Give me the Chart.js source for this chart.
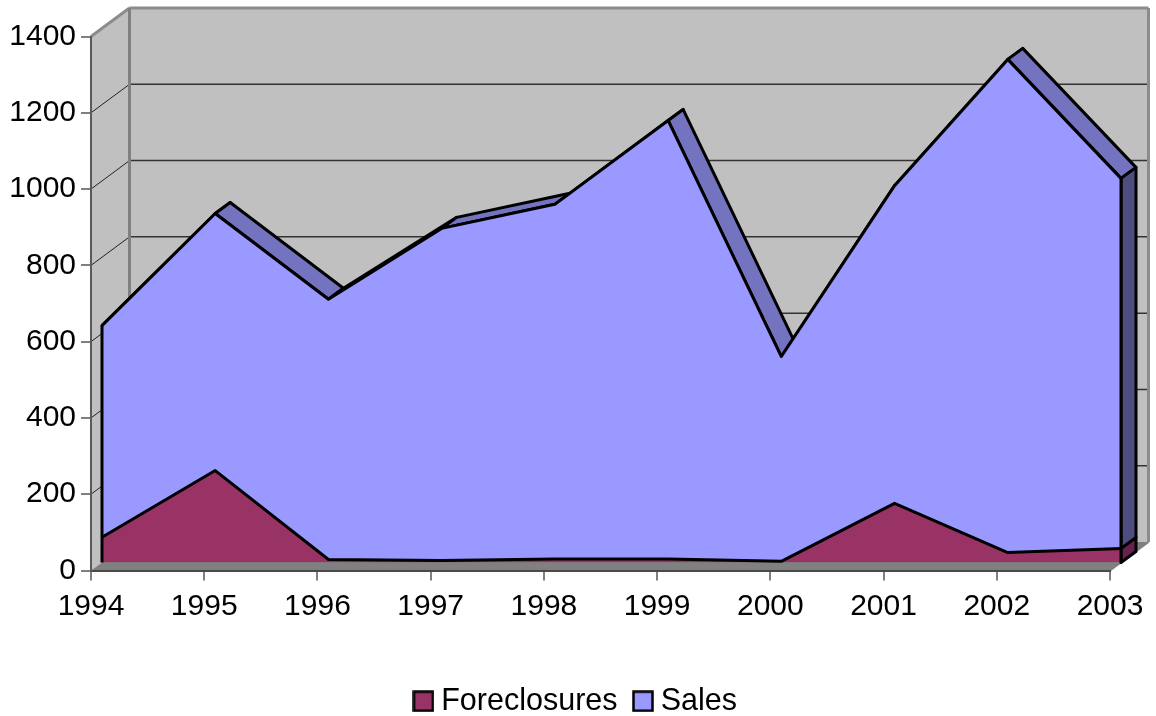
<!DOCTYPE html>
<html>
<head>
<meta charset="utf-8">
<style>html,body{margin:0;padding:0;background:#fff}canvas{display:block}</style>
<script src="https://cdn.jsdelivr.net/npm/chart.js@4"></script>
</head>
<body>
<canvas id="c" width="1156" height="716"></canvas>
<script>
const categories = ['1994','1995','1996','1997','1998','1999','2000','2001','2002','2003'];
const foreclosures = [66, 241, 8, 5, 9, 9, 3, 155, 26, 37];
const sales = [555, 674, 682, 871, 930, 1150, 537, 833, 1293, 970];

const WALL = {dx: 38.5, dy: -28.5};
const FRONT = {dx: 11, dy: -8};
const BACK = {dx: 26, dy: -19};
const FONT = 'Liberation Sans, Arial, sans-serif';
const OUTLINE = 3;

function poly(ctx, pts, fill, stroke, lw) {
  ctx.beginPath();
  pts.forEach((p, i) => i ? ctx.lineTo(p[0], p[1]) : ctx.moveTo(p[0], p[1]));
  ctx.closePath();
  if (fill) { ctx.fillStyle = fill; ctx.fill(); }
  if (stroke) { ctx.strokeStyle = stroke; ctx.lineWidth = lw; ctx.lineJoin = 'round'; ctx.stroke(); }
}
function line(ctx, x0, y0, x1, y1, color, lw) {
  ctx.beginPath(); ctx.moveTo(x0, y0); ctx.lineTo(x1, y1);
  ctx.strokeStyle = color; ctx.lineWidth = lw; ctx.stroke();
}
function swatch(color) {
  const c = document.createElement('canvas');
  c.width = 22; c.height = 22;
  const g = c.getContext('2d');
  g.fillStyle = color; g.fillRect(1, 1, 20, 20);
  g.strokeStyle = '#000'; g.lineWidth = 2.5; g.strokeRect(1.5, 1.5, 19, 19);
  return c;
}

const walls3d = {
  id: 'walls3d',
  afterLayout(chart) {
    const l = chart.legend;
    const h = l.bottom - l.top;
    l.top = 701 - l.options.labels.padding - 15;
    l.bottom = l.top + h;
    l.left += 24; l.right += 24;
  },
  beforeDraw(chart) {
    const {ctx, chartArea: a, scales: {y}} = chart;
    const bx0 = a.left + WALL.dx, bx1 = a.right + WALL.dx;
    const by0 = a.top + WALL.dy, by1 = a.bottom + WALL.dy;
    ctx.save();
    poly(ctx, [[bx0, by0], [bx1, by0], [bx1, by1], [bx0, by1]], '#c0c0c0');
    poly(ctx, [[a.left, a.top], [bx0, by0], [bx0, by1], [a.left, a.bottom]], '#c0c0c0');
    y.ticks.forEach(t => {
      const py = y.getPixelForValue(t.value);
      if (t.value === 0 || t.value === y.max) return;
      line(ctx, a.left, py, bx0, py + WALL.dy, '#222', 1);
      line(ctx, bx0, py + WALL.dy, bx1, py + WALL.dy, '#333', 1.5);
    });
    poly(ctx, [[a.left, a.bottom], [bx0, by1], [bx1, by1], [a.right, a.bottom]], '#808080');
    line(ctx, a.left, a.top, bx0, by0, '#8c8c8c', 3);
    line(ctx, bx0, by0, bx1, by0, '#8c8c8c', 3);
    line(ctx, bx0, by0, bx0, by1, '#808080', 3);
    line(ctx, bx1, by0, bx1, by1, '#8c8c8c', 3);
    line(ctx, bx1, by1, a.right, a.bottom, '#808080', 2);
    ctx.restore();
  },
  beforeDatasetsDraw(chart) {
    const {ctx, chartArea: a} = chart;
    const top = chart.getDatasetMeta(1).data;
    const low = chart.getDatasetMeta(0).data;
    const base = a.bottom;
    ctx.save();
    const n = top.length - 1;
    const f = (x, y) => [x + FRONT.dx, y + FRONT.dy];
    const b = (x, y) => [x + BACK.dx, y + BACK.dy];
    poly(ctx, [f(low[n].x, low[n].y), b(low[n].x, low[n].y), b(low[n].x, base), f(low[n].x, base)], '#66224c', '#000', OUTLINE);
    for (let i = 0; i < n; i++) {
      const p = top[i], q = top[i + 1];
      poly(ctx, [f(p.x, p.y), b(p.x, p.y), b(q.x, q.y), f(q.x, q.y)], '#7373bf', '#000', OUTLINE);
    }
    poly(ctx, [f(top[n].x, top[n].y), b(top[n].x, top[n].y), b(low[n].x, low[n].y), f(low[n].x, low[n].y)], '#4d4d80', '#000', OUTLINE);
    ctx.restore();
    ctx.save();
    ctx.translate(FRONT.dx, FRONT.dy);
  },
  afterDatasetsDraw(chart) {
    const {ctx, chartArea: a} = chart;
    const top = chart.getDatasetMeta(1).data;
    const n = top.length - 1;
    ctx.lineCap = 'butt';
    line(ctx, top[0].x, top[0].y, top[0].x, a.bottom, '#000', OUTLINE);
    line(ctx, top[n].x, top[n].y, top[n].x, a.bottom, '#000', OUTLINE);
    ctx.restore();
  }
};

new Chart(document.getElementById('c'), {
  type: 'line',
  data: {
    labels: categories,
    datasets: [
      {label: 'Foreclosures', data: foreclosures, backgroundColor: '#993366', borderColor: '#000', borderWidth: OUTLINE,
       fill: 'origin', pointRadius: 0, tension: 0, clip: false, borderJoinStyle: 'round'},
      {label: 'Sales', data: sales, backgroundColor: '#9999ff', borderColor: '#000', borderWidth: OUTLINE,
       fill: '-1', pointRadius: 0, tension: 0, clip: false, borderJoinStyle: 'round'}
    ]
  },
  plugins: [walls3d],
  options: {
    responsive: false,
    animation: false,
    layout: {padding: {left: 0, right: 46, top: 36.5, bottom: 0}},
    plugins: {
      tooltip: {enabled: false},
      legend: {
        position: 'bottom',
        labels: {
          color: '#000',
          font: {family: FONT, size: 30.5},
          usePointStyle: true,
          pointStyleWidth: 5,
          padding: 23,
          generateLabels(chart) {
            return chart.data.datasets.map((d, i) => ({
              text: d.label, fillStyle: d.backgroundColor, strokeStyle: '#000', lineWidth: 0,
              pointStyle: swatch(d.backgroundColor), datasetIndex: i, fontColor: '#000'
            }));
          }
        }
      }
    },
    scales: {
      x: {
        type: 'category',
        offset: false,
        afterFit(s) { s.height = s.chart.height - 570.5 - s.chart.legend.height; },
        grid: {drawOnChartArea: false, drawTicks: true, tickLength: 10, color: '#808080', lineWidth: 2},
        border: {display: true, color: '#4a4a4a', width: 2},
        ticks: {color: '#000', font: {family: FONT, size: 30}, maxRotation: 0, minRotation: 0, autoSkip: false, padding: 8}
      },
      y: {
        min: 0, max: 1400,
        stacked: true,
        afterFit(s) { s.width = 91; },
        grid: {drawOnChartArea: false, drawTicks: true, tickLength: 10, color: '#808080', lineWidth: 2},
        border: {display: true, color: '#5a5a5a', width: 2},
        ticks: {color: '#000', font: {family: FONT, size: 30}, stepSize: 200, padding: 5, callback: v => String(v)}
      }
    }
  }
});
</script>
</body>
</html>
